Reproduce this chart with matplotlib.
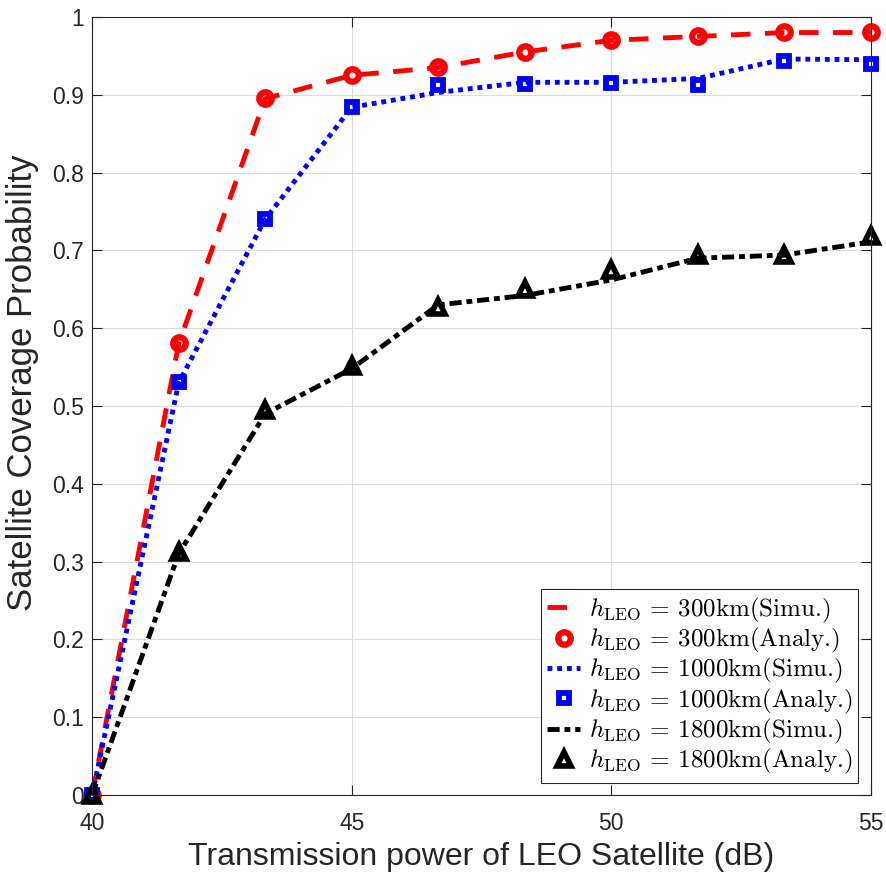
import numpy as np
import matplotlib.pyplot as plt

plt.rcParams['font.family'] = ['Liberation Sans', 'DejaVu Sans']
plt.rcParams['mathtext.fontset'] = 'cm'

power = [40, 41.667, 43.333, 45, 46.667, 48.333, 50, 51.667, 53.333, 55]

# simulation curves
sim_300 = [0, 0.58, 0.895, 0.925, 0.935, 0.955, 0.97, 0.975, 0.98, 0.98]
sim_1000 = [0, 0.53, 0.74, 0.884, 0.903, 0.916, 0.916, 0.921, 0.946, 0.945]
sim_1800 = [0, 0.31, 0.49, 0.548, 0.63, 0.642, 0.662, 0.69, 0.694, 0.711]

# analytical points
ana_300 = [0, 0.581, 0.896, 0.926, 0.936, 0.955, 0.971, 0.976, 0.981, 0.981]
ana_1000 = [0, 0.531, 0.740, 0.884, 0.912, 0.914, 0.915, 0.913, 0.943, 0.940]
ana_1800 = [0, 0.312, 0.495, 0.551, 0.627, 0.650, 0.675, 0.694, 0.694, 0.718]

labels = [r'$h_{\mathrm{LEO}}$ = 300km(Simu.)', r'$h_{\mathrm{LEO}}$ = 300km(Analy.)',
          r'$h_{\mathrm{LEO}}$ = 1000km(Simu.)', r'$h_{\mathrm{LEO}}$ = 1000km(Analy.)',
          r'$h_{\mathrm{LEO}}$ = 1800km(Simu.)', r'$h_{\mathrm{LEO}}$ = 1800km(Analy.)']

fig = plt.figure(figsize=(8.86, 8.75), dpi=100)
ax = fig.add_axes([0.104, 0.0914, 0.879, 0.8892])

lw = 3.5
ax.plot(power, sim_300, color='red', lw=lw, dashes=(4, 3), label=labels[0])
ax.plot(power, ana_300, ls='none', marker='o', ms=9, mew=4.5, mfc='none', mec='red',
        clip_on=False, label=labels[1])
ax.plot(power, sim_1000, color='blue', lw=lw, dashes=(1, 1), label=labels[2])
ax.plot(power, ana_1000, ls='none', marker='s', ms=7, mew=4.2, mfc='none', mec='blue',
        clip_on=False, label=labels[3])
ax.plot(power, sim_1800, color='black', lw=lw, dashes=(2.5, 1, 1.2, 1), label=labels[4])
ax.plot(power, ana_1800, ls='none', marker='^', ms=10, mew=4, mfc='none', mec='black',
        clip_on=False, label=labels[5])

ax.set_xlim(40, 55)
ax.set_ylim(0, 1)
ax.set_xticks([40, 45, 50, 55])
ax.set_yticks(np.arange(0, 1.01, 0.1))
ax.set_yticklabels(['0', '0.1', '0.2', '0.3', '0.4', '0.5', '0.6', '0.7', '0.8', '0.9', '1'])
ax.tick_params(direction='in', labelsize=16.5, length=7, width=0.8, top=True, right=True,
               colors='#262626')
ax.tick_params(axis='x', pad=12)
ax.tick_params(axis='y', pad=6)
ax.grid(True, color='#dcdcdc', lw=0.8)
ax.set_axisbelow(True)
for s in ax.spines.values():
    s.set_color('#262626')
    s.set_linewidth(0.8)

ax.set_xlabel('Transmission power of LEO Satellite (dB)', fontsize=23, color='#262626', labelpad=5)
ax.set_ylabel('Satellite Coverage Probability', fontsize=25, color='#262626')
ax.yaxis.set_label_coords(-0.068, 0.53)

leg = ax.legend(loc='lower right', prop={'family': 'cmr10', 'size': 18}, fancybox=False,
                framealpha=1, edgecolor='#262626', handlelength=1.3, handletextpad=0.35,
                borderpad=0.25, labelspacing=0.05, borderaxespad=0.5)
leg.get_frame().set_linewidth(0.8)

fig.savefig('out.png', dpi=100)
